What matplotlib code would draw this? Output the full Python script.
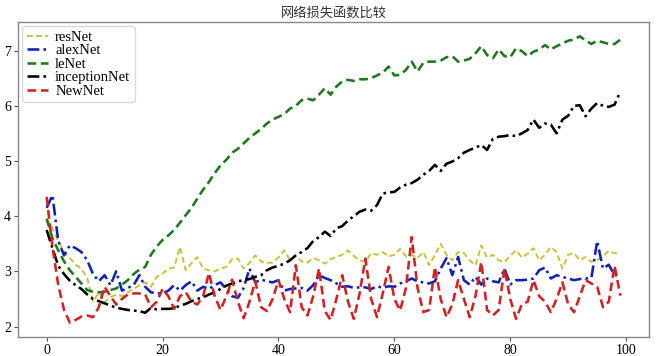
import numpy as np
import matplotlib
matplotlib.use("Agg")
import matplotlib.pyplot as plt

# --- Data ---
epochs = np.arange(100)

resnet = [3.96, 3.78, 3.55, 3.35, 3.24, 3.12, 3.05, 2.88, 2.45, 2.62,
          2.44, 2.53, 2.58, 2.55, 2.62, 2.68, 2.75, 2.80, 2.72, 2.90,
          2.96, 3.05, 3.07, 3.44, 3.02, 3.15, 3.26, 3.05, 3.02, 3.00,
          3.05, 3.08, 3.22, 3.23, 3.05, 3.15, 3.29, 3.18, 3.15, 3.16,
          3.25, 3.38, 3.20, 3.29, 3.18, 3.16, 3.24, 3.20, 3.14, 3.22,
          3.26, 3.30, 3.38, 3.28, 3.20, 3.17, 3.33, 3.30, 3.35, 3.27,
          3.30, 3.41, 3.27, 3.30, 3.24, 3.35, 3.11, 3.30, 3.50, 3.30,
          3.20, 3.35, 3.33, 3.20, 3.11, 3.47, 3.25, 3.30, 3.20, 3.17,
          3.28, 3.38, 3.25, 3.32, 3.42, 3.20, 3.30, 3.44, 3.35, 3.05,
          3.30, 3.33, 3.20, 3.26, 3.17, 3.20, 3.28, 3.37, 3.33, 3.32]

alexnet = [4.15, 4.38, 3.55, 3.29, 3.47, 3.42, 3.35, 3.20, 2.95, 2.82,
           2.93, 2.75, 3.00, 2.65, 2.70, 2.75, 2.93, 2.72, 2.62, 2.60,
           2.60, 2.65, 2.75, 2.65, 2.75, 2.82, 2.65, 2.72, 2.68, 2.75,
           2.80, 2.68, 2.55, 2.52, 2.70, 3.05, 2.80, 2.85, 2.82, 2.80,
           2.84, 2.65, 2.68, 2.69, 2.70, 2.65, 2.75, 2.93, 2.88, 2.84,
           2.78, 2.72, 2.73, 2.70, 2.71, 2.71, 2.68, 2.73, 2.70, 2.73,
           2.72, 2.78, 2.82, 2.87, 2.82, 2.80, 2.78, 2.82, 3.05, 3.24,
           2.93, 3.26, 2.84, 2.76, 2.90, 2.76, 2.87, 2.82, 2.80, 3.05,
           2.76, 2.84, 2.84, 2.85, 2.87, 3.02, 3.07, 2.87, 2.93, 2.90,
           2.87, 2.84, 2.86, 2.87, 2.88, 3.55, 3.05, 3.12, 2.93, 2.93]

lenet = [3.95, 3.60, 3.38, 3.18, 3.02, 2.90, 2.78, 2.66, 2.63, 2.62,
         2.63, 2.66, 2.69, 2.76, 2.84, 2.95, 3.03, 3.08, 3.30, 3.45,
         3.57, 3.65, 3.75, 3.88, 4.02, 4.15, 4.32, 4.48, 4.62, 4.78,
         4.92, 5.02, 5.15, 5.22, 5.32, 5.42, 5.50, 5.58, 5.68, 5.75,
         5.80, 5.85, 5.95, 6.00, 6.10, 6.13, 6.10, 6.20, 6.32, 6.20,
         6.35, 6.44, 6.47, 6.45, 6.48, 6.48, 6.50, 6.55, 6.60, 6.71,
         6.55, 6.56, 6.65, 6.80, 6.62, 6.78, 6.80, 6.80, 6.82, 6.88,
         6.90, 6.80, 6.82, 6.85, 6.95, 7.08, 6.92, 6.86, 7.02, 6.90,
         6.88, 7.04, 6.99, 6.90, 6.98, 7.02, 7.10, 7.02, 7.08, 7.13,
         7.18, 7.20, 7.26, 7.18, 7.12, 7.18, 7.15, 7.12, 7.12, 7.20]

inception = [3.75, 3.42, 3.10, 2.95, 2.83, 2.75, 2.68, 2.58, 2.50, 2.46,
             2.42, 2.38, 2.34, 2.32, 2.30, 2.29, 2.28, 2.25, 2.34, 2.31,
             2.32, 2.32, 2.33, 2.38, 2.41, 2.46, 2.50, 2.53, 2.58, 2.62,
             2.68, 2.74, 2.78, 2.82, 2.84, 2.86, 2.90, 2.93, 3.02, 3.07,
             3.10, 3.14, 3.20, 3.29, 3.35, 3.42, 3.55, 3.62, 3.72, 3.64,
             3.78, 3.82, 3.92, 4.00, 4.08, 4.12, 4.10, 4.20, 4.41, 4.43,
             4.44, 4.52, 4.57, 4.60, 4.66, 4.75, 4.82, 4.93, 4.82, 4.95,
             4.99, 5.05, 5.15, 5.20, 5.24, 5.29, 5.20, 5.40, 5.44, 5.45,
             5.47, 5.45, 5.50, 5.56, 5.75, 5.60, 5.68, 5.66, 5.50, 5.75,
             5.82, 6.00, 6.01, 5.81, 5.95, 6.05, 6.00, 5.98, 6.02, 6.26]

newnet = [4.35, 3.44, 2.75, 2.30, 2.07, 2.12, 2.18, 2.20, 2.17, 2.35,
          2.72, 2.55, 2.40, 2.50, 2.58, 2.60, 2.60, 2.58, 2.35, 2.45,
          2.68, 2.55, 2.32, 2.55, 2.62, 2.45, 2.40, 2.55, 2.97, 2.55,
          2.30, 2.55, 2.85, 2.45, 2.15, 2.45, 2.82, 2.35, 2.28, 2.50,
          2.84, 2.50, 2.26, 3.11, 2.35, 2.20, 2.55, 3.05, 2.28, 2.12,
          2.50, 2.93, 2.45, 2.14, 2.60, 3.23, 2.50, 2.17, 2.60, 3.08,
          2.50, 2.29, 2.70, 3.62, 2.70, 2.26, 2.30, 3.08, 2.50, 2.17,
          2.40, 2.84, 2.50, 2.17, 2.55, 3.17, 2.30, 2.20, 2.30, 3.05,
          2.50, 2.14, 2.40, 2.45, 2.84, 2.55, 2.45, 2.26, 2.50, 2.80,
          2.40, 2.26, 2.55, 2.84, 2.78, 2.72, 2.35, 2.45, 3.10, 2.56]

labels = ["resNet", "alexNet", "leNet", "inceptionNet", "NewNet"]
title = "网络损失函数比较"

# --- Plot ---
plt.rcParams['font.family'] = ['Liberation Serif', 'Noto Sans CJK SC']

fig = plt.figure(figsize=(6.56, 3.56), dpi=100)
ax = fig.add_axes([0.0274, 0.0534, 0.962, 0.885])

dashdot = (4.6, 1.6, 1.0, 1.6)
dash = (3.4, 1.8)
ax.plot(epochs, resnet, color='#c8c43a', lw=1.4, dashes=(3.0, 1.7), label=labels[0])
ax.plot(epochs, alexnet, color='#1020c0', lw=1.85, dashes=dashdot, label=labels[1])
ax.plot(epochs, lenet, color='#1a7a1a', lw=1.85, dashes=dash, label=labels[2])
ax.plot(epochs, inception, color='black', lw=1.85, dashes=dashdot, label=labels[3])
ax.plot(epochs, newnet, color='#d42020', lw=1.85, dashes=dash, label=labels[4])

ax.set_xticks([0, 20, 40, 60, 80, 100])
ax.set_yticks([2, 3, 4, 5, 6, 7])
ax.tick_params(labelsize=10, length=3, width=0.8, color='#555555', pad=2)
for s in ax.spines.values():
    s.set_color('#888888')
    s.set_linewidth(1.0)

ax.set_title(title, fontsize=9.5, family=['Noto Sans CJK SC'], color='#333333', pad=4)

leg = ax.legend(loc='upper left', fontsize=10.5, labelspacing=0.02, handlelength=1.45,
                handletextpad=0.5, borderpad=0.3, borderaxespad=0.3, framealpha=0.8)
leg.get_frame().set_edgecolor('#d0d0d0')

fig.savefig("out.png", dpi=100)
